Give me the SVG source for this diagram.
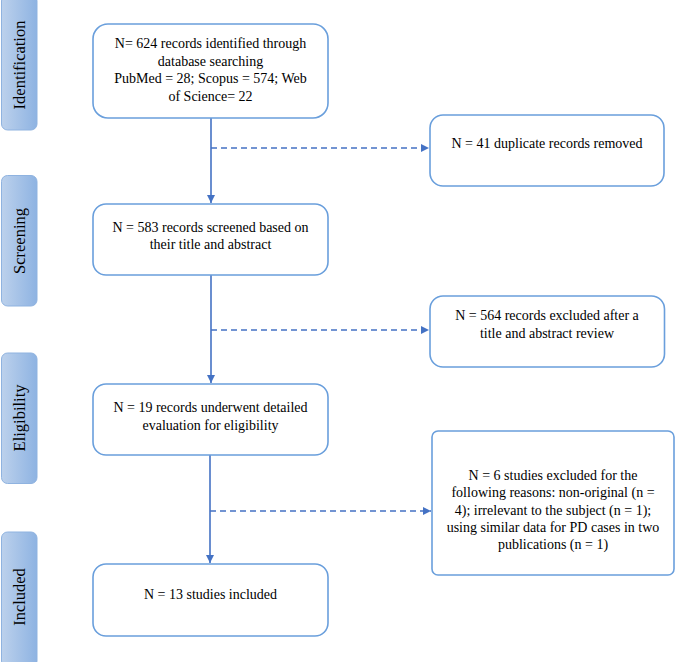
<svg xmlns="http://www.w3.org/2000/svg" width="676" height="662" viewBox="0 0 676 662">
<style>
.stage{fill:url(#sg);stroke:#8fb3e0;stroke-width:1}
.stxt{font-family:"Liberation Serif","Times New Roman",serif;font-size:16.5px;fill:#000;text-anchor:middle}
.box{fill:#fff;stroke:#6a9fdc;stroke-width:1.6}
.t{font-family:"Liberation Serif","Times New Roman",serif;font-size:14px;fill:#000;text-anchor:middle}
.solid{stroke:#4472c4;stroke-width:1.6;fill:none}
.dash{stroke:#4472c4;stroke-width:1.6;fill:none;stroke-dasharray:6,4}
</style>
<defs>
<linearGradient id="sg" x1="0" y1="0" x2="1" y2="0">
<stop offset="0" stop-color="#bcd1ec"/>
<stop offset="1" stop-color="#8eb3e2"/>
</linearGradient>
<marker id="ah" viewBox="0 0 10 10" refX="10" refY="5" markerWidth="8" markerHeight="8" markerUnits="userSpaceOnUse" orient="auto">
<path d="M0,0 L10,5 L0,10 z" fill="#4472c4"/>
</marker>
</defs>
<rect width="676" height="662" fill="#fff"/>
<g id="stage-identification"><rect class="stage" x="1.5" y="-5" width="35.5" height="135" rx="6"/><text class="stxt" transform="translate(25,65) rotate(-90)">Identification</text></g>
<g id="stage-screening"><rect class="stage" x="1.5" y="175.5" width="35.5" height="130.5" rx="6"/><text class="stxt" transform="translate(25,241) rotate(-90)">Screening</text></g>
<g id="stage-eligibility"><rect class="stage" x="1.5" y="353" width="35.5" height="130.5" rx="6"/><text class="stxt" transform="translate(25,418) rotate(-90)">Eligibility</text></g>
<g id="stage-included"><rect class="stage" x="1.5" y="532" width="35.5" height="135" rx="6"/><text class="stxt" transform="translate(25,597) rotate(-90)">Included</text></g>

<g id="connectors">
<line class="solid" x1="211" y1="118" x2="211" y2="203" marker-end="url(#ah)"/>
<line class="dash" x1="211" y1="148" x2="429" y2="148" marker-end="url(#ah)"/>
<line class="solid" x1="211" y1="275" x2="211" y2="383" marker-end="url(#ah)"/>
<line class="dash" x1="211" y1="330" x2="429" y2="330" marker-end="url(#ah)"/>
<line class="solid" x1="210" y1="455" x2="210" y2="563" marker-end="url(#ah)"/>
<line class="dash" x1="210" y1="511" x2="431" y2="511" marker-end="url(#ah)"/>
</g>

<g id="n1"><rect class="box" x="93" y="24" width="235" height="94" rx="15"/>
<text class="t"><tspan x="210.5" y="48">N= 624 records identified through</tspan><tspan x="210.5" y="65.5">database searching</tspan><tspan x="210.5" y="83">PubMed = 28; Scopus = 574; Web</tspan><tspan x="210.5" y="100.5">of Science= 22</tspan></text></g>
<g id="n2"><rect class="box" x="430" y="115" width="234" height="71" rx="13"/>
<text class="t"><tspan x="547" y="148">N = 41 duplicate records removed</tspan></text></g>
<g id="n3"><rect class="box" x="93" y="204" width="235" height="71" rx="13"/>
<text class="t"><tspan x="210.5" y="231.5">N = 583 records screened based on</tspan><tspan x="210.5" y="249">their title and abstract</tspan></text></g>
<g id="n4"><rect class="box" x="430" y="296" width="234.5" height="71" rx="13"/>
<text class="t"><tspan x="547" y="320">N = 564 records excluded after a</tspan><tspan x="547" y="338">title and abstract review</tspan></text></g>
<g id="n5"><rect class="box" x="93" y="384" width="235" height="71" rx="13"/>
<text class="t"><tspan x="210.5" y="412">N = 19 records underwent detailed</tspan><tspan x="210.5" y="429.5">evaluation for eligibility</tspan></text></g>
<g id="n6"><rect class="box" x="432" y="431" width="242" height="144" rx="6"/>
<text class="t"><tspan x="553" y="480">N = 6 studies excluded for the</tspan><tspan x="553" y="497">following reasons: non-original (n =</tspan><tspan x="553" y="514.5">4); irrelevant to the subject (n = 1);</tspan><tspan x="553" y="532">using similar data for PD cases in two</tspan><tspan x="553" y="549">publications (n = 1)</tspan></text></g>
<g id="n7"><rect class="box" x="93" y="564" width="235" height="72" rx="13"/>
<text class="t"><tspan x="210.5" y="599">N = 13 studies included</tspan></text></g>
</svg>
